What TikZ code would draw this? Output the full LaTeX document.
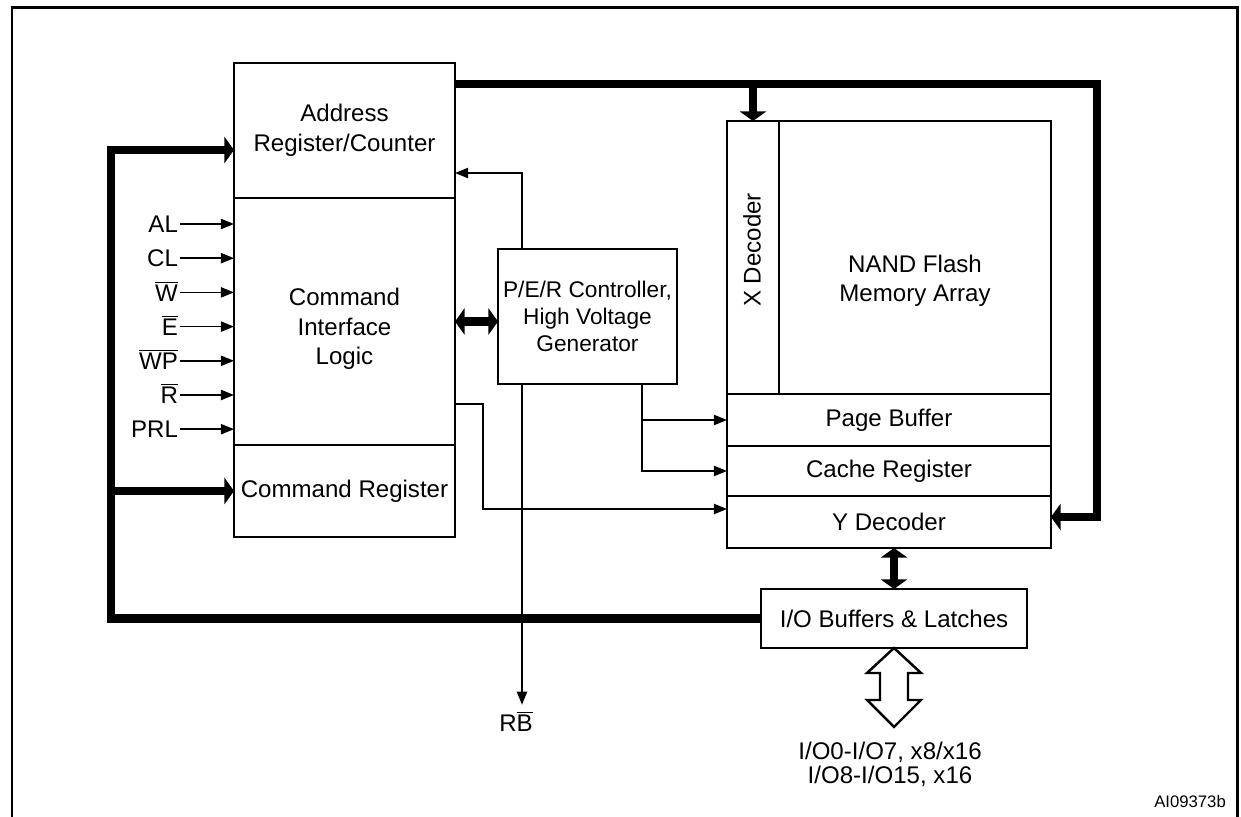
\documentclass[tikz,border=0pt]{standalone}
\usepackage{fontspec}
\setmainfont{Liberation Sans}
\usetikzlibrary{arrows.meta,calc}

\tikzset{
  blk/.style={draw, line width=1.4pt, inner sep=0pt, outer sep=0pt, align=center},
  bus/.style={line width=4.8pt, >={Triangle[length=5.5pt,width=15pt]}},
  sig/.style={line width=1pt, >={Triangle[length=7.5pt,width=5.8pt]}}
}

\begin{document}
\begin{tikzpicture}[x=0.02cm, y=-0.02cm,
  every node/.style={font=\fontsize{13.7}{16.8}\selectfont}]
  \useasboundingbox (0,0) rectangle (1241,817);

  % outer frame
  \draw[line width=1.7pt] (12,817) -- (12,7.5) -- (1237,7.5) -- (1237,817);

  % control side
  \node[blk, minimum width=4.42cm, minimum height=2.7cm] (addr) at (344.5,130.5) {Address\\Register/Counter};
  \node[blk, minimum width=4.42cm, minimum height=4.94cm] (cil) at (344.5,321.5) {};
  \node[align=center] (cillbl) at (344.5,329) {Command\\Interface\\Logic};
  \node[blk, minimum width=4.42cm, minimum height=1.84cm] (cmdreg) at (344.5,491) {Command Register};
  \node[blk, minimum width=3.58cm, minimum height=2.7cm,
        font=\fontsize{12.9}{15.3}\selectfont] (pecon) at (587.5,316.5) {P/E/R Controller,\\High Voltage\\Generator};

  % memory side
  \node[blk, minimum width=1.04cm, minimum height=5.46cm] (xdec) at (753,257.5) {};
  \node[rotate=90] (xdeclbl) at (752,250) {X Decoder};
  \node[blk, minimum width=5.44cm, minimum height=5.46cm] (array) at (915,257.5) {};
  \node[align=center] (arraylbl) at (915,281) {NAND Flash\\Memory Array};
  \node[blk, minimum width=6.48cm, minimum height=1.04cm] (pagebuf) at (889,420) {Page Buffer};
  \node[blk, minimum width=6.48cm, minimum height=1.0cm] (cache) at (889,471) {Cache Register};
  \node[blk, minimum width=6.48cm, minimum height=1.04cm] (ydec) at (889,522) {Y Decoder};
  \node[blk, minimum width=5.32cm, minimum height=1.18cm] (iobuf) at (894,618.5) {I/O Buffers \& Latches};

  % control inputs
  \foreach \s [count=\i] in {AL, CL, {$\overline{\mbox{W}}$}, {$\overline{\mbox{E}}$},
      {$\overline{\mbox{WP}}$}, {$\overline{\mbox{R}}$}, PRL} {
    \node[anchor=east, text height=9.8pt, text depth=0pt, inner sep=1pt] (s\i) at (180,{224+34.2*(\i-1)}) {\s};
    \draw[sig,->] (s\i.east) -- (s\i.east -| cil.west);
  }

  % thick buses
  \coordinate (lb) at (111,150);
  \draw[bus,->] (iobuf.west) -| (lb) -- (lb -| addr.west);
  \draw[bus,->] (lb |- cmdreg.west) -- (cmdreg.west);
  \coordinate (rt) at (1097,84);
  \draw[bus,->] (addr.east |- rt) -- (rt) |- ($(ydec.east)+(0,-5)$);
  \draw[bus,->] (xdec.north |- rt) -- (xdec.north);
  \draw[bus,<->] ($(pecon.west -| cil.east)+(0,5)$) -- ($(pecon.west)+(0,5)$);
  \draw[bus,<->] (iobuf.north |- ydec.south) -- (iobuf.north);

  % thin signals
  \coordinate (rbx) at (522,173);
  \draw[sig,->] (rbx |- pecon.north) -- (rbx) -- (rbx -| addr.east);
  \node (rb) at (516,721) {R$\overline{\mbox{B}}$};
  \draw[sig,->] (rbx |- pecon.south) -- (rbx |- rb.north);
  \coordinate (pb) at (642,420);
  \draw[sig,->] (pb |- pecon.south) |- (cache.west);
  \draw[sig,->] (pb) -- (pagebuf.west);
  \coordinate (co) at (483,404);
  \draw[sig,->] (co -| cil.east) -- (co) |- ($(ydec.west)+(0,-13)$);

  % data bus
  \draw[line width=1.4pt, fill=white] (iobuf.south) -- ++(27,25) -- ++(-13,0) -- ++(0,27)
    -- ++(13,0) -- ++(-27,27) -- ++(-27,-27) -- ++(13,0) -- ++(0,-27) -- ++(-13,0) -- cycle;
  \node[align=center, font=\fontsize{13.7}{13.8}\selectfont] (iolbl) at (890,764) {I/O0-I/O7, x8/x16\\I/O8-I/O15, x16};

  \node[anchor=east, font=\fontsize{9.5}{11}\selectfont] (fig) at (1232,802) {AI09373b};
\end{tikzpicture}
\end{document}
